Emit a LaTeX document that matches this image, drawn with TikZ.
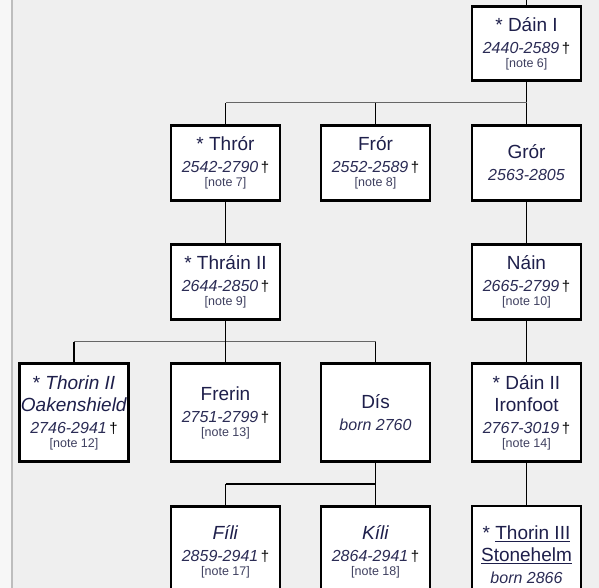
\documentclass[tikz,border=0pt]{standalone}
\usepackage{fontspec}
\setmainfont{Liberation Sans}
\usetikzlibrary{calc,positioning}
\definecolor{PageGray}{HTML}{EFEFEF}
\definecolor{MarginGray}{HTML}{F7F7F7}
\definecolor{EdgeGray}{HTML}{BDBDBD}
\definecolor{NameBlue}{HTML}{1E1F4B}
\definecolor{DateBlue}{HTML}{2B2C55}
\definecolor{NoteGray}{HTML}{3F4060}

\newcommand{\dwarf}[1]{{\fontsize{19}{22}\selectfont\color{NameBlue}#1}}
\newcommand{\years}[1]{{\fontsize{16}{22}\selectfont\itshape\color{DateBlue}#1}}
\newcommand{\noteref}[1]{{\fontsize{12.5}{14}\selectfont\color{NoteGray}[note #1]}}

\begin{document}
\begin{tikzpicture}[x=1pt, y=-1pt,
    person/.style={draw, line width=2.6pt, fill=white, minimum width=109pt,
      minimum height=75pt, align=center, inner sep=1pt,
      font=\fontsize{15}{22}\selectfont},
    tallperson/.style={person, minimum height=98pt},
    lowperson/.style={person, minimum height=90pt},
    link/.style={line width=1.6pt, draw=black},
    bar/.style={line width=1pt, draw=black!60}]

    % Page
    \useasboundingbox (0,0) rectangle (599,588);
    \clip (0,0) rectangle (599,588);
    \fill[PageGray] (0,0) rectangle (599,588);
    \fill[MarginGray] (0,0) rectangle (10.5,588);
    \draw[EdgeGray, line width=2pt] (11.5,0) -- (11.5,588);

    % Generation of Dain I
    \node[person, minimum height=74pt] (dain1) at (526.5,43.5)
      {\dwarf{* Dáin I}\\ \years{2440-2589}\,†\\[-8pt]\noteref{6}};

    % His sons
    \node[person] (thror) at (225.5,163)
      {\dwarf{* Thrór}\\ \years{2542-2790}\,†\\[-8pt]\noteref{7}};
    \node[person] (fror) at (375.5,163)
      {\dwarf{Frór}\\ \years{2552-2589}\,†\\[-8pt]\noteref{8}};
    \node[person] (gror) at (526.5,163)
      {\dwarf{Grór}\\ \years{2563-2805}};

    % Grandsons
    \node[person] (thrain) at (225.5,282)
      {\dwarf{* Thráin II}\\ \years{2644-2850}\,†\\[-8pt]\noteref{9}};
    \node[person] (nain) at (526.5,282)
      {\dwarf{Náin}\\ \years{2665-2799}\,†\\[-8pt]\noteref{10}};

    % Children of Thrain II and Nain
    \node[tallperson] (thorin2) at (74,412.5)
      {\dwarf{* \textit{Thorin II}}\\ \dwarf{\textit{Oakenshield}}\\
       \years{2746-2941}\,†\\[-8pt]\noteref{12}};
    \node[tallperson] (frerin) at (225.5,412.5)
      {\dwarf{Frerin}\\ \years{2751-2799}\,†\\[-8pt]\noteref{13}};
    \node[tallperson] (dis) at (375.5,412.5)
      {\dwarf{Dís}\\ \years{born 2760}};
    \node[tallperson] (dain2) at (526.5,412.5)
      {\dwarf{* Dáin II}\\ \dwarf{Ironfoot}\\
       \years{2767-3019}\,†\\[-8pt]\noteref{14}};

    % Last row
    \node[lowperson] (fili) at (225.5,551.3)
      {\dwarf{\textit{Fíli}}\\ \years{2859-2941}\,†\\[-8pt]\noteref{17}};
    \node[lowperson] (kili) at (375.5,551.3)
      {\dwarf{\textit{Kíli}}\\ \years{2864-2941}\,†\\[-8pt]\noteref{18}};
    \node[tallperson] (thorin3) at (526.5,555)
      {\dwarf{* \underline{Thorin III}}\\ \dwarf{\underline{Stonehelm}}\\
       \years{born 2866}};

    % Junctions
    \coordinate (bar1) at ($(dain1.south)!0.5!(gror.north)$);
    \coordinate (bar2) at ($(thrain.south)!0.5!(frerin.north)$);
    \coordinate (bar3) at ($(dis.south)!0.5!(kili.north)$);
    \coordinate (topend) at (dain1.north |- 0,0);

    % Lines of descent
    \draw[link] (dain1.north) -- (topend);
    \draw[link] (dain1.south) -- (gror.north);
    \draw[bar] (thror.north |- bar1) -- (bar1);
    \draw[link] (thror.north) -- (thror.north |- bar1);
    \draw[link] (fror.north) -- (fror.north |- bar1);
    \draw[link] (thror.south) -- (thrain.north);
    \draw[link] (gror.south) -- (nain.north);

    \draw[bar] (thorin2.north |- bar2) -- (dis.north |- bar2);
    \draw[link] (thrain.south) -- (frerin.north);
    \draw[link] (thorin2.north) -- (thorin2.north |- bar2);
    \draw[link] (dis.north) -- (dis.north |- bar2);
    \draw[link] (nain.south) -- (dain2.north);

    \draw[link] (fili.north |- bar3) -- (bar3);
    \draw[link] (dis.south) -- (kili.north);
    \draw[link] (fili.north) -- (fili.north |- bar3);
    \draw[link] (dain2.south) -- (thorin3.north);
\end{tikzpicture}
\end{document}
